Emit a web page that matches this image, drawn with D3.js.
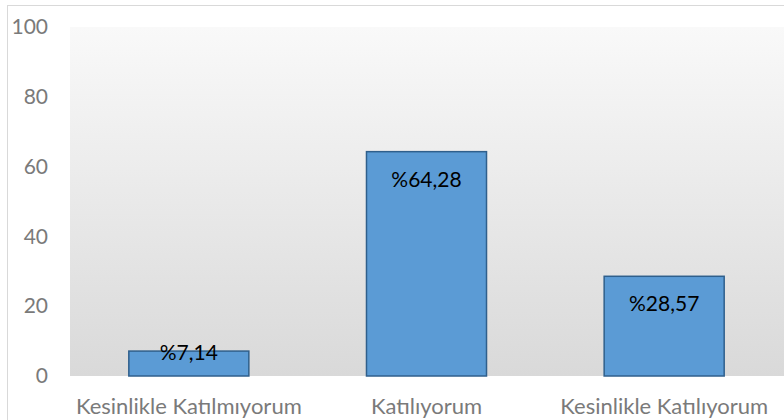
<!DOCTYPE html>
<html>
<head>
<meta charset="utf-8">
<script src="https://cdn.jsdelivr.net/npm/d3@7"></script>
<style>
  body { margin: 0; background: #fff; }
  text { font-family: Lato, "Open Sans", sans-serif; }
</style>
</head>
<body>
<div id="chart"></div>
<script>
const categories = ["Kesinlikle Katılmıyorum", "Katılıyorum", "Kesinlikle Katılıyorum"];
const values = [7.14, 64.28, 28.57];
const labels = ["%7,14", "%64,28", "%28,57"];
const yTicks = [0, 20, 40, 60, 80, 100];

const width = 784, height = 420;
const plot = { left: 70, right: 783, top: 27, bottom: 376 };

const svg = d3.select("#chart")
  .append("svg")
  .attr("width", width)
  .attr("height", height);

// chart border
svg.append("rect")
  .attr("x", 7.5).attr("y", 5.5)
  .attr("width", 800).attr("height", 430)
  .attr("fill", "#fff")
  .attr("stroke", "#d9d9d9");

const grad = svg.append("defs").append("linearGradient")
  .attr("id", "bg").attr("x1", 0).attr("y1", 0).attr("x2", 0).attr("y2", 1);
grad.append("stop").attr("offset", "0%").attr("stop-color", "#f9f9f9");
grad.append("stop").attr("offset", "100%").attr("stop-color", "#d9d9d9");

svg.append("rect")
  .attr("x", plot.left).attr("y", plot.top)
  .attr("width", plot.right - plot.left + 5)
  .attr("height", plot.bottom - plot.top)
  .attr("fill", "url(#bg)");

const x = d3.scaleBand()
  .domain(categories)
  .range([plot.left, plot.right])
  .paddingInner(0.495)
  .paddingOuter(0.2475);

const y = d3.scaleLinear()
  .domain([0, 100])
  .range([plot.bottom, plot.top]);

// y axis
const yAxis = svg.append("g")
  .attr("transform", `translate(${plot.left},0)`)
  .call(d3.axisLeft(y).tickValues(yTicks).tickSize(0).tickPadding(22));
yAxis.select(".domain").remove();
yAxis.selectAll("text")
  .attr("fill", "#7a7a7a")
  .style("font-size", "21px");

// x axis labels
const xAxis = svg.append("g")
  .attr("transform", `translate(0,${plot.bottom})`)
  .call(d3.axisBottom(x).tickSize(0).tickPadding(22));
xAxis.select(".domain").remove();
xAxis.selectAll("text")
  .attr("fill", "#7a7a7a")
  .style("font-size", "22px");

// bars
svg.selectAll("rect.bar")
  .data(values)
  .enter().append("rect")
  .attr("class", "bar")
  .attr("x", (d, i) => x(categories[i]))
  .attr("y", d => y(d))
  .attr("width", x.bandwidth())
  .attr("height", d => y(0) - y(d))
  .attr("fill", "#5b9bd5")
  .attr("stroke", "#2f5f8c")
  .attr("stroke-width", 1.5);

// value labels
svg.selectAll("text.lbl")
  .data(values)
  .enter().append("text")
  .attr("class", "lbl")
  .attr("x", (d, i) => x(categories[i]) + x.bandwidth() / 2)
  .attr("y", (d, i) => i === 0 ? y(d) + 9 : y(d) + 35)
  .attr("text-anchor", "middle")
  .attr("fill", "#000")
  .style("font-size", "21px")
  .text((d, i) => labels[i]);
</script>
</body>
</html>
